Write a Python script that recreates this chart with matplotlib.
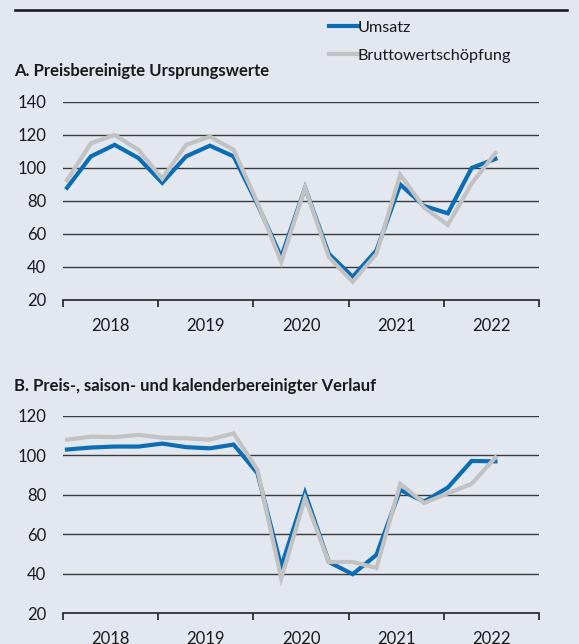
import matplotlib
matplotlib.use("Agg")
import matplotlib.pyplot as plt
from matplotlib.lines import Line2D

plt.rcParams['font.family'] = ['Lato', 'DejaVu Sans']

BG = '#e2e7f0'
BLUE = '#0b6db3'
GREY = '#c2c2c2'

years = ['2018', '2019', '2020', '2021', '2022']

# Quarterly values, 2018 Q1 .. 2022 Q3
umsatz_a = [88, 107, 114, 106, 91, 107, 113.5, 107, 78, 46,
            88, 48, 34, 50, 90, 77, 72.5, 100, 105.5]
bws_a = [92.5, 115, 120, 111, 93.5, 114, 119, 111, 79, 43,
         88, 46, 31, 48, 96, 76, 65.5, 90.5, 109]

umsatz_b = [103, 104, 104.5, 104.5, 106, 104.2, 103.6, 105.5, 91, 43.6,
            81, 46, 39.8, 49.6, 82.5, 76.6, 83.7, 97.2, 97]
bws_b = [108, 109.5, 109.3, 110.4, 109, 108.7, 108, 111.2, 92.7, 37.7,
         78.3, 46, 46, 43, 85.6, 75.9, 80.8, 85.6, 99]


def draw_panel(ax, umsatz, bws, yticks):
    ax.set_facecolor(BG)
    x = [i + 0.17 for i in range(len(umsatz))]
    ax.plot(x, umsatz, color=BLUE, lw=3.0, solid_joinstyle='miter', zorder=3)
    ax.plot(x, bws, color=GREY, lw=3.0, solid_joinstyle='miter', zorder=4)
    ax.set_xlim(0, 20)
    ax.set_ylim(yticks[0], yticks[-1])
    ax.set_yticks(yticks)
    for y in yticks[1:]:
        ax.axhline(y, color='#3a3a3a', lw=1.0, zorder=1)
    for s in ['top', 'right', 'left']:
        ax.spines[s].set_visible(False)
    ax.spines['bottom'].set_color('#222222')
    ax.spines['bottom'].set_linewidth(1.2)
    ax.spines['bottom'].set_zorder(2)
    ax.tick_params(axis='y', length=0, pad=12, labelsize=12, colors='#1a1a1a')
    ax.set_xticks(range(0, 21, 4))
    ax.set_xticklabels([])
    ax.set_xticks([2 + 4 * k for k in range(len(years))], minor=True)
    ax.set_xticklabels(years, minor=True)
    ax.tick_params(axis='x', which='major', direction='out', length=5,
                   width=1.2, color='#222222')
    ax.tick_params(axis='x', which='minor', length=0, pad=13, labelsize=12,
                   colors='#1a1a1a')


fig = plt.figure(figsize=(5.79, 6.44), dpi=100, facecolor=BG)

ax_a = fig.add_axes([0.1088, 0.5342, 0.8221, 0.3075])
draw_panel(ax_a, umsatz_a, bws_a, [20, 40, 60, 80, 100, 120, 140])

ax_b = fig.add_axes([0.1088, 0.0477, 0.8221, 0.3064])
draw_panel(ax_b, umsatz_b, bws_b, [20, 40, 60, 80, 100, 120])

# top rule
fig.add_artist(Line2D([15 / 579, 567 / 579], [1 - 9.5 / 644] * 2,
                      color='#111111', lw=1.8))

fig.text(14 / 579, 1 - 71 / 644, 'A. Preisbereinigte Ursprungswerte',
         fontsize=12, fontweight='bold', color='#1a1a1a', va='center')
fig.text(14 / 579, 1 - 386 / 644, 'B. Preis-, saison- und kalenderbereinigter Verlauf',
         fontsize=12, fontweight='bold', color='#1a1a1a', va='center')

# legend
handles = [Line2D([], [], color=BLUE, lw=3.0), Line2D([], [], color=GREY, lw=3.0)]
fig.legend(handles, ['Umsatz', 'Bruttowertschöpfung'],
           loc='upper left', bbox_to_anchor=(318 / 579, 1 - 9 / 644),
           frameon=False, fontsize=11.7, handlelength=1.75, handletextpad=0.0,
           labelspacing=0.85, borderpad=0.2, labelcolor='#1a1a1a')

fig.savefig('out.png', dpi=100, facecolor=BG)
